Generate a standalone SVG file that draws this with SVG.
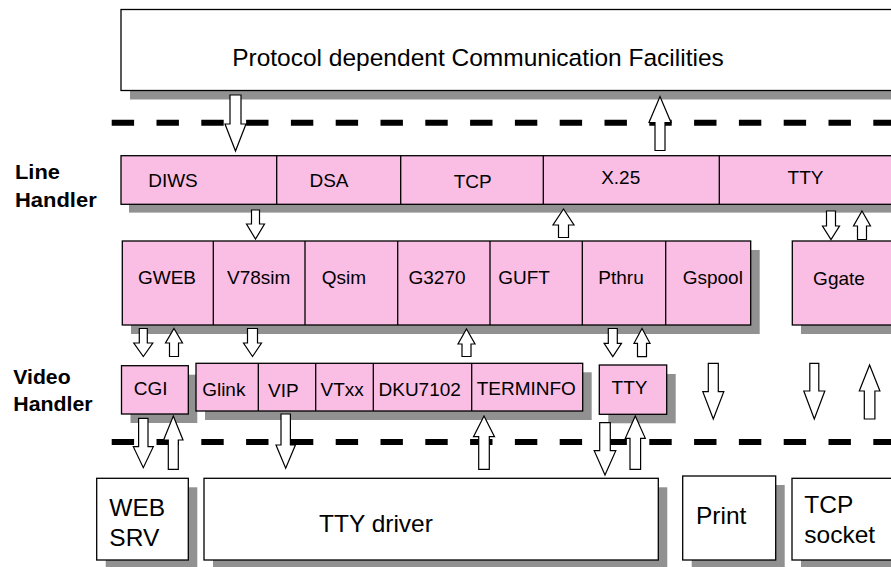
<svg xmlns="http://www.w3.org/2000/svg" width="891" height="567" viewBox="0 0 891 567">
<style>
.sh{fill:#919191;stroke:none}
.pk{fill:#FABEE4;stroke:#000;stroke-width:1.3}
.wb{fill:#fff;stroke:#000;stroke-width:1.3}
.dv{stroke:#000;stroke-width:1.3;fill:none}
.t{font-family:"Liberation Sans",Arial,sans-serif;font-size:19px;fill:#000;text-anchor:middle}
.tl{font-family:"Liberation Sans",Arial,sans-serif;font-size:24.5px;fill:#000}
.hb{font-family:"Liberation Sans",Arial,sans-serif;font-size:20px;font-weight:bold;fill:#000}
.dash{stroke:#000;stroke-width:6;stroke-dasharray:22.4 22.4;fill:none}
.ar{fill:#fff;stroke:#000;stroke-width:1.2;stroke-linejoin:miter}
</style>
<rect width="891" height="567" fill="#fff"/>

<g id="labels">
<text class="hb" x="15" y="179" textLength="45" lengthAdjust="spacingAndGlyphs">Line</text>
<text class="hb" x="15" y="206.7" textLength="81.7" lengthAdjust="spacingAndGlyphs">Handler</text>
<text class="hb" x="13.3" y="384.3" textLength="57.3" lengthAdjust="spacingAndGlyphs">Video</text>
<text class="hb" x="13.3" y="410.7" textLength="79.3" lengthAdjust="spacingAndGlyphs">Handler</text>
</g>

<g id="comm">
<rect class="sh" x="130" y="18.5" width="800" height="81"/>
<rect class="wb" x="121" y="9.5" width="800" height="81"/>
<text class="tl" x="478" y="66" text-anchor="middle">Protocol dependent Communication Facilities</text>
</g>

<g id="dashes">
<line class="dash" x1="111.7" y1="122.7" x2="900" y2="122.7"/>
<line class="dash" x1="111.7" y1="442" x2="900" y2="442"/>
</g>

<g id="line-handler">
<rect class="sh" x="129" y="164" width="800" height="48.6"/>
<rect class="pk" x="121" y="155.7" width="800" height="48.6"/>
<path class="dv" d="M276.7 155.7V204.3M400.7 155.7V204.3M543.3 155.7V204.3M719.3 155.7V204.3"/>
<text class="t" x="173" y="186.7">DIWS</text>
<text class="t" x="329" y="186.5">DSA</text>
<text class="t" x="472.7" y="188">TCP</text>
<text class="t" x="620.7" y="184">X.25</text>
<text class="t" x="805.5" y="184">TTY</text>
</g>

<g id="gateways">
<rect class="sh" x="131" y="250" width="628.7" height="84"/>
<rect class="pk" x="122.3" y="241" width="628.4" height="84"/>
<path class="dv" d="M213.3 241V325M305 241V325M397.7 241V325M490 241V325M582.3 241V325M665.7 241V325"/>
<text class="t" x="167" y="284.3">GWEB</text>
<text class="t" x="258.7" y="284.3">V78sim</text>
<text class="t" x="344" y="284.3">Qsim</text>
<text class="t" x="437" y="284.3">G3270</text>
<text class="t" x="524" y="284.3">GUFT</text>
<text class="t" x="621" y="284.3">Pthru</text>
<text class="t" x="712.8" y="284.3">Gspool</text>
</g>

<g id="ggate">
<rect class="sh" x="801" y="250" width="120" height="84"/>
<rect class="pk" x="792.3" y="241" width="120" height="84"/>
<text class="t" x="839" y="284.5">Ggate</text>
</g>

<g id="cgi">
<rect class="sh" x="130.5" y="374.7" width="66.8" height="48.3"/>
<rect class="pk" x="121.5" y="365.7" width="66.8" height="48.3"/>
<text class="t" x="150.7" y="394.5">CGI</text>
</g>

<g id="video-handler">
<rect class="sh" x="205" y="372.3" width="386.7" height="47.7"/>
<rect class="pk" x="196" y="363.3" width="386.7" height="47.7"/>
<path class="dv" d="M258.3 363.3V411M315.7 363.3V411M373.3 363.3V411M471.7 363.3V411"/>
<text class="t" x="223.8" y="395.7">Glink</text>
<text class="t" x="283.3" y="396.5">VIP</text>
<text class="t" x="342.2" y="395.7">VTxx</text>
<text class="t" x="419.7" y="395.5">DKU7102</text>
<text class="t" x="526.3" y="395.3">TERMINFO</text>
</g>

<g id="tty-video">
<rect class="sh" x="608.3" y="374" width="67.4" height="49.3"/>
<rect class="pk" x="599.3" y="365" width="67.4" height="49.3"/>
<text class="t" x="629.5" y="394">TTY</text>
</g>

<g id="web-srv">
<rect class="sh" x="105.7" y="487.3" width="91.6" height="81.7"/>
<rect class="wb" x="96.7" y="478.3" width="91.6" height="81.7"/>
<text class="tl" x="109.3" y="515.7">WEB</text>
<text class="tl" x="109.3" y="546">SRV</text>
</g>

<g id="tty-driver">
<rect class="sh" x="213" y="487.3" width="454.3" height="81.7"/>
<rect class="wb" x="204" y="478.3" width="454.3" height="81.7"/>
<text class="tl" x="319" y="531.7">TTY driver</text>
</g>

<g id="print">
<rect class="sh" x="691.7" y="485" width="93" height="84"/>
<rect class="wb" x="682.7" y="476" width="93" height="84"/>
<text class="tl" x="696" y="524.3">Print</text>
</g>

<g id="tcp-socket">
<rect class="sh" x="801" y="487.3" width="120" height="81.7"/>
<rect class="wb" x="792" y="478.3" width="120" height="81.7"/>
<text class="tl" x="804.3" y="513.3">TCP</text>
<text class="tl" x="804.3" y="543.3">socket</text>
</g>

<g id="connectors">
<polygon class="ar" points="230,95 241,95 241,124 246,124 235.5,151 225,124 230,124"/>
<polygon class="ar" points="660,96.5 671,122.5 665,122.5 665,150.5 655,150.5 655,122.5 649,122.5"/>
<polygon class="ar" points="251.5,210 259.5,210 259.5,224 264.5,224 255.5,239 246.5,224 251.5,224"/>
<polygon class="ar" points="563.5,209 574,225 568.5,225 568.5,237.5 558.5,237.5 558.5,225 553,225"/>
<polygon class="ar" points="826.5,211 835.5,211 835.5,226 839.5,226 831,239.5 822.5,226 826.5,226"/>
<polygon class="ar" points="862,211 870.5,226 866.5,226 866.5,239.5 857.5,239.5 857.5,226 853.5,226"/>
<polygon class="ar" points="139.3,328.5 147.3,328.5 147.3,343 152.8,343 143.3,356.5 133.8,343 139.3,343"/>
<polygon class="ar" points="174,328.5 182.5,343 178.5,343 178.5,356.5 169.5,356.5 169.5,343 165.5,343"/>
<polygon class="ar" points="247.5,328.5 257.5,328.5 257.5,343 261.5,343 252.5,356.5 243.5,343 247.5,343"/>
<polygon class="ar" points="466.5,329 475,344 471,344 471,356.5 462,356.5 462,344 458,344"/>
<polygon class="ar" points="608.3,328.5 617.3,328.5 617.3,343.3 621.5,343.3 612.8,356.7 604.1,343.3 608.3,343.3"/>
<polygon class="ar" points="642,328.5 650,343.3 646.5,343.3 646.5,356.7 637.5,356.7 637.5,343.3 634,343.3"/>
<polygon class="ar" points="708.3,363.3 718.3,363.3 718.3,391.7 723.8,391.7 713.3,419 702.8,391.7 708.3,391.7"/>
<polygon class="ar" points="809.8,363.3 818.8,363.3 818.8,391 824.8,391 814.3,419 803.8,391 809.8,391"/>
<polygon class="ar" points="869.6,365 879.9,391 874.9,391 874.9,419 864.3,419 864.3,391 859.3,391"/>
<polygon class="ar" points="138.6,418.3 148,418.3 148,446.7 153.3,446.7 143.3,467.7 133.3,446.7 138.6,446.7"/>
<polygon class="ar" points="173.3,416 183,440 178.3,440 178.3,469.3 168.3,469.3 168.3,440 163.6,440"/>
<polygon class="ar" points="281,414 290.4,414 290.4,445 295.4,445 285.7,468.3 276,445 281,445"/>
<polygon class="ar" points="484,416 494.5,436.7 489.3,436.7 489.3,469.3 478.7,469.3 478.7,436.7 473.5,436.7"/>
<polygon class="ar" points="599.7,422.7 610.3,422.7 610.3,450.7 615.8,450.7 605,475 594.2,450.7 599.7,450.7"/>
<polygon class="ar" points="635.3,416 645.3,438.3 640.6,438.3 640.6,469.3 630,469.3 630,438.3 625.3,438.3"/>
</g>
</svg>
